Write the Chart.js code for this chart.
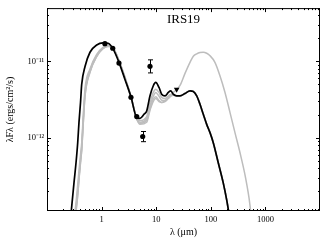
<!DOCTYPE html>
<html>
<head>
<meta charset="utf-8">
<script src="https://cdn.jsdelivr.net/npm/chart.js@4.4.1/dist/chart.umd.min.js"></script>
<style>
  html, body { margin: 0; padding: 0; background: #fff; }
  #wrap { width: 327px; height: 243px; }
</style>
</head>
<body>
<div id="wrap"><canvas id="sed" width="327" height="243"></canvas></div>
<script>
// wavelengths in micron, fluxes lambda*F_lambda in ergs/cm^2/s

// best fit model (black), near/mid IR part
const lamBlack = [0.275, 0.312, 0.34, 0.365, 0.385, 0.411, 0.432, 0.497, 0.613, 0.813, 1.06, 1.31, 1.62, 2.08, 2.68, 3.45, 4.40, 5.05, 6.0, 6.7, 7.7, 8.85, 9.8, 11.25, 12.6, 14.5, 16.7, 18.4, 20.6, 23.7, 27.3];
const fluxBlack = [1.0e-13, 2.57e-13, 4.71e-13, 8.63e-13, 1.58e-12, 2.9e-12, 5.0e-12, 8.6e-12, 1.32e-11, 1.64e-11, 1.75e-11, 1.73e-11, 1.46e-11, 9.74e-12, 5.82e-12, 3.44e-12, 1.84e-12, 1.80e-12, 2.04e-12, 2.25e-12, 3.55e-12, 4.81e-12, 5.31e-12, 4.57e-12, 3.72e-12, 3.55e-12, 3.93e-12, 4.13e-12, 3.72e-12, 3.55e-12, 3.55e-12];

// long wavelength tail shared by black and most grey fits
const lamTail = [33.7, 41.6, 47.8, 55.2, 63.4, 72.9, 84.1, 96.7, 111, 137, 169, 195, 215];
const fluxTail = [3.81e-12, 4.13e-12, 4.05e-12, 3.55e-12, 2.75e-12, 2.03e-12, 1.50e-12, 1.17e-12, 8.63e-13, 4.71e-13, 2.57e-13, 1.55e-13, 1.03e-13];

// other good fits (grey)
const lamGrey = [0.32, 0.34, 0.365, 0.385, 0.411, 0.432, 0.462, 0.497, 0.613, 0.813, 1.06, 1.31, 1.62, 2.08, 2.68, 3.45, 4.40, 5.05, 6.7, 7.7, 8.85, 9.8, 11.25, 12.6, 14.5, 16.7, 18.4, 20.6, 23.7, 27.3];
const fluxGrey1 = [1.0e-13, 1.42e-13, 2.44e-13, 3.69e-13, 6.0e-13, 8.63e-13, 2.01e-12, 4.43e-12, 8.0e-12, 1.24e-11, 1.53e-11, 1.63e-11, 1.49e-11, 1.0e-11, 6.0e-12, 3.37e-12, 1.84e-12, 1.68e-12, 1.90e-12, 2.90e-12, 3.93e-12, 4.34e-12, 3.93e-12, 3.37e-12, 3.27e-12, 3.53e-12, 3.69e-12, 3.64e-12, 3.55e-12, 3.55e-12];
const fluxGrey2 = [0.7e-13, 1.2e-13, 2.0e-13, 3.1e-13, 5.2e-13, 7.6e-13, 1.8e-12, 3.9e-12, 7.6e-12, 1.2e-11, 1.5e-11, 1.6e-11, 1.5e-11, 1.02e-11, 6.1e-12, 3.4e-12, 1.8e-12, 1.6e-12, 1.8e-12, 2.6e-12, 3.5e-12, 3.93e-12, 3.5e-12, 3.11e-12, 3.08e-12, 3.37e-12, 3.6e-12, 3.64e-12, 3.55e-12, 3.55e-12];
const fluxGrey3 = [0.6e-13, 1.1e-13, 1.8e-13, 2.9e-13, 4.9e-13, 7.0e-13, 1.6e-12, 3.6e-12, 7.3e-12, 1.17e-11, 1.48e-11, 1.58e-11, 1.5e-11, 1.03e-11, 6.2e-12, 3.45e-12, 1.78e-12, 1.55e-12, 1.7e-12, 2.4e-12, 3.2e-12, 3.44e-12, 3.08e-12, 2.9e-12, 2.99e-12, 3.27e-12, 3.5e-12, 3.6e-12, 3.55e-12, 3.55e-12];
const fluxGreyFir = [0.6e-13, 1.05e-13, 1.75e-13, 2.8e-13, 4.7e-13, 6.8e-13, 1.55e-12, 3.5e-12, 7.2e-12, 1.16e-11, 1.47e-11, 1.57e-11, 1.5e-11, 1.03e-11, 6.2e-12, 3.45e-12, 1.76e-12, 1.5e-12, 1.6e-12, 2.3e-12, 3.0e-12, 3.27e-12, 2.99e-12, 2.9e-12, 3.08e-12, 3.37e-12, 3.66e-12, 3.93e-12, 4.30e-12, 4.85e-12];

// the fit with the big far-IR bump
const lamFir = [33.7, 41.6, 47.8, 55.2, 63.4, 72.9, 84.1, 96.7, 119, 147, 182, 225, 277, 343, 423, 501, 545];
const fluxFir = [6.98e-12, 9.74e-12, 1.17e-11, 1.26e-11, 1.31e-11, 1.32e-11, 1.28e-11, 1.19e-11, 9.74e-12, 6.51e-12, 3.93e-12, 2.14e-12, 1.17e-12, 6.37e-13, 3.27e-13, 1.63e-13, 1.0e-13];

// photometry
const lamPhot = [1.15, 1.60, 2.08, 3.45, 4.40, 5.66, 7.7];
const fluxPhot = [1.71e-11, 1.49e-11, 9.53e-12, 3.40e-12, 1.90e-12, 1.04e-12, 8.63e-12];
const errLo = [null, null, null, null, null, 8.9e-13, 7.08e-12];
const errHi = [null, null, null, null, null, 1.21e-12, 1.05e-11];

// upper limit
const lamLimit = [23.7];
const fluxLimit = [4.3e-12];

const xTicks = [1, 10, 100, 1000];
const yTicks = [1e-12, 1e-11];

const pts = (xs, ys) => xs.map((x, i) => ({ x: x, y: ys[i] }));

const GREY = '#bdbdbd';
const serif = 'Liberation Serif';
const sup = { '-': '\u207b', '0': '\u2070', '1': '\u00b9', '2': '\u00b2', '3': '\u00b3' };

function curve(data, color, width, order) {
  return {
    data: data,
    showLine: true,
    borderColor: color,
    borderWidth: width,
    pointRadius: 0,
    cubicInterpolationMode: 'monotone',
    order: order
  };
}

const frame = {
  id: 'frame',
  afterDraw(chart) {
    const { ctx, chartArea: a, scales: { x, y } } = chart;
    ctx.save();
    ctx.strokeStyle = '#000';
    ctx.lineWidth = 1;
    ctx.strokeRect(a.left + 0.5, a.top + 0.5, a.right - a.left - 1, a.bottom - a.top - 1);
    ctx.beginPath();
    for (let k = -1; k <= 4; k++) {
      for (let m = 1; m <= 9; m++) {
        const v = m * Math.pow(10, k);
        if (v <= x.min || v >= x.max) continue;
        const p = Math.round(x.getPixelForValue(v)) + 0.5;
        const len = m === 1 ? 4 : 2;
        ctx.moveTo(p, a.bottom); ctx.lineTo(p, a.bottom - len);
        ctx.moveTo(p, a.top); ctx.lineTo(p, a.top + len);
      }
    }
    for (let k = -14; k <= -10; k++) {
      for (let m = 1; m <= 9; m++) {
        const v = m * Math.pow(10, k);
        if (v <= y.min || v >= y.max) continue;
        const p = Math.round(y.getPixelForValue(v)) + 0.5;
        const len = m === 1 ? 4 : 2;
        ctx.moveTo(a.left, p); ctx.lineTo(a.left + len, p);
        ctx.moveTo(a.right, p); ctx.lineTo(a.right - len, p);
      }
    }
    ctx.stroke();
    ctx.fillStyle = '#000';
    ctx.font = '13px ' + serif;
    ctx.textAlign = 'center';
    ctx.textBaseline = 'middle';
    ctx.fillText('IRS19', (a.left + a.right) / 2, a.top + 11);
    ctx.restore();
  }
};

const errorBars = {
  id: 'errorBars',
  afterDatasetsDraw(chart) {
    const { ctx, scales: { x, y } } = chart;
    ctx.save();
    ctx.strokeStyle = '#000';
    ctx.lineWidth = 1;
    ctx.beginPath();
    lamPhot.forEach((l, i) => {
      if (errLo[i] == null) return;
      const px = Math.round(x.getPixelForValue(l)) + 0.5;
      const y0 = y.getPixelForValue(errHi[i]);
      const y1 = y.getPixelForValue(errLo[i]);
      ctx.moveTo(px, y0); ctx.lineTo(px, y1);
      ctx.moveTo(px - 2.5, y0); ctx.lineTo(px + 2.5, y0);
      ctx.moveTo(px - 2.5, y1); ctx.lineTo(px + 2.5, y1);
    });
    ctx.stroke();
    ctx.restore();
  }
};

new Chart(document.getElementById('sed'), {
  type: 'scatter',
  data: {
    datasets: [
      {
        data: pts(lamPhot, fluxPhot),
        pointRadius: 2.6,
        backgroundColor: '#000',
        borderWidth: 0,
        order: 0
      },
      {
        data: pts(lamLimit, fluxLimit),
        pointStyle: 'triangle',
        rotation: 180,
        pointRadius: 3.2,
        backgroundColor: '#000',
        borderWidth: 0,
        order: 0
      },
      curve(pts(lamBlack.concat(lamTail), fluxBlack.concat(fluxTail)), '#000', 1.7, 1),
      curve(pts(lamGrey.concat(lamTail), fluxGrey1.concat(fluxTail)), GREY, 1.5, 2),
      curve(pts(lamGrey.concat(lamTail), fluxGrey2.concat(fluxTail)), GREY, 1.5, 2),
      curve(pts(lamGrey.concat(lamTail), fluxGrey3.concat(fluxTail)), GREY, 1.5, 2),
      curve(pts(lamGrey.concat(lamFir), fluxGreyFir.concat(fluxFir)), GREY, 1.5, 2)
    ]
  },
  options: {
    responsive: false,
    animation: false,
    devicePixelRatio: 1,
    layout: { padding: { top: 6, right: 7, left: 0, bottom: 0 } },
    plugins: { legend: { display: false }, tooltip: { enabled: false } },
    scales: {
      x: {
        type: 'logarithmic',
        min: 0.1,
        max: 10000,
        afterFit(s) { s.height = 32; },
        afterBuildTicks(s) { s.ticks = xTicks.map(v => ({ value: v })); },
        grid: { display: false, drawTicks: false },
        border: { display: false },
        ticks: {
          autoSkip: false,
          maxRotation: 0,
          padding: 4,
          color: '#000',
          font: { family: serif, size: 8.5 },
          callback: v => String(v)
        },
        title: {
          display: true,
          text: 'λ (μm)',
          color: '#000',
          font: { family: serif, size: 10 },
          padding: { top: 0, bottom: 5 }
        }
      },
      y: {
        type: 'logarithmic',
        min: 1.1e-13,
        max: 5e-11,
        afterFit(s) { s.width = 47; },
        afterBuildTicks(s) { s.ticks = yTicks.map(v => ({ value: v })); },
        grid: { display: false, drawTicks: false },
        border: { display: false },
        ticks: {
          autoSkip: false,
          padding: 3,
          color: '#000',
          font: { family: serif, size: 8.5 },
          callback: v => '10' + String(Math.round(Math.log10(v))).split('').map(c => sup[c]).join('')
        },
        title: {
          display: true,
          text: 'λFλ (ergs/cm²/s)',
          color: '#000',
          font: { family: serif, size: 10 },
          padding: { top: 4, bottom: 0 }
        }
      }
    }
  },
  plugins: [frame, errorBars]
});
</script>
</body>
</html>
